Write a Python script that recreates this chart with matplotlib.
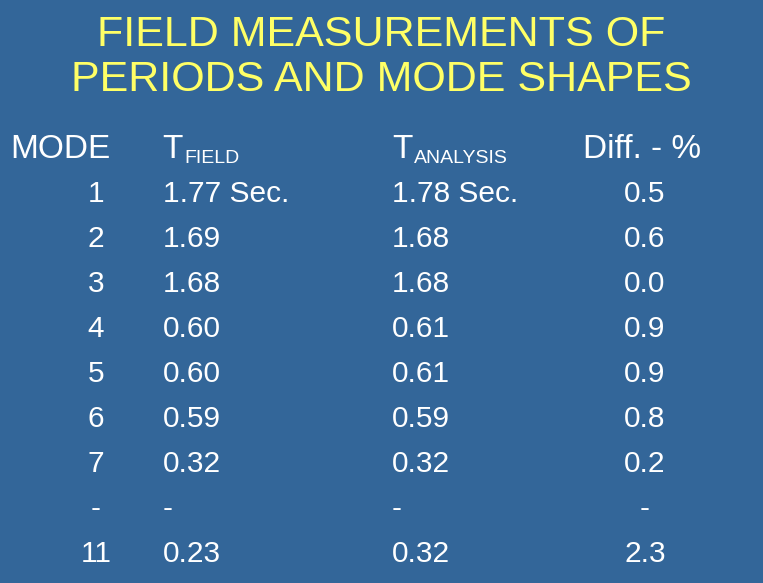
import matplotlib
matplotlib.use("Agg")
import matplotlib.pyplot as plt

plt.rcParams['font.family'] = ['Liberation Sans', 'DejaVu Sans']

title_lines = ["FIELD MEASUREMENTS OF", "PERIODS AND MODE SHAPES"]
modes = ["1", "2", "3", "4", "5", "6", "7", "-", "11"]
t_field = ["1.77 Sec.", "1.69", "1.68", "0.60", "0.60", "0.59", "0.32", "-", "0.23"]
t_analysis = ["1.78 Sec.", "1.68", "1.68", "0.61", "0.61", "0.59", "0.32", "-", "0.32"]
diff = ["0.5", "0.6", "0.0", "0.9", "0.9", "0.8", "0.2", "-", "2.3"]

W, H = 763, 583
fig = plt.figure(figsize=(W/100, H/100), dpi=100)
fig.patch.set_facecolor('#336699')

def T(x, y, s, **kw):
    fig.text(x/W, 1 - y/H, s, **kw)

yellow = '#FFFF66'
T(381, 35, title_lines[0], ha='center', va='center', fontsize=31, color=yellow)
T(381, 80, title_lines[1], ha='center', va='center', fontsize=31, color=yellow)

hs = 24
rs = 21.5
T(10, 150, "MODE", ha='left', va='center', fontsize=hs, color='white')
T(162, 150, "T", ha='left', va='center', fontsize=hs, color='white')
T(184, 158, "FIELD", ha='left', va='center', fontsize=14, color='white')
T(392, 150, "T", ha='left', va='center', fontsize=hs, color='white')
T(414, 158, "ANALYSIS", ha='left', va='center', fontsize=14, color='white')
T(642, 150, "Diff. - %", ha='center', va='center', fontsize=hs, color='white')

for i in range(len(modes)):
    y = 194 + 45*i
    T(96, y, modes[i], ha='center', va='center', fontsize=rs, color='white')
    T(163, y, t_field[i], ha='left', va='center', fontsize=rs, color='white')
    T(392, y, t_analysis[i], ha='left', va='center', fontsize=rs, color='white')
    T(645, y, diff[i], ha='center', va='center', fontsize=rs, color='white')

fig.savefig("out.png", dpi=100, facecolor=fig.get_facecolor())
